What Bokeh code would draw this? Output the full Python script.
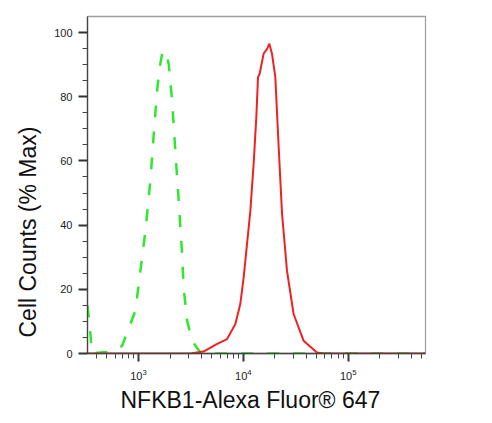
from bokeh.plotting import figure
from bokeh.models import Range1d, FixedTicker, LogTicker, Title
from bokeh.embed import file_html
from bokeh.resources import INLINE

# Fluorescence intensity (x) and % max cell counts (y)
isotype_intensity = [327, 345, 360, 435, 541, 700, 935, 1045, 1167, 1300, 1400, 1507,
                     1596, 1683, 1807, 1945, 2094, 2249, 2421, 2606, 2698, 2911, 3243,
                     3890, 4853, 10000, 50000, 100000, 545000]
isotype_counts = [15, 8, 0, 0.3, 0.5, 2.4, 13.3, 25.8, 38.3, 53.9, 68.4, 81.9,
                  89.2, 93.4, 94.4, 90.2, 78.8, 63.1, 47.6, 31.1, 20.6, 10.2, 4.0,
                  0.3, 0, 0, 0, 0, 0]

nfkb1_intensity = [327, 3126, 4169, 5572, 7000, 8395, 9354, 10070, 10840, 11670, 12530,
                   13300, 13800, 14290, 15600, 16830, 17700, 18750, 20180, 21730, 23390,
                   26060, 30130, 37500, 50230, 58210, 545000]
nfkb1_counts = [0, 0, 0.6, 2.9, 4.5, 9.2, 15.4, 23.7, 34.1, 44.5, 59.0,
                73.6, 86.1, 87.1, 93.4, 94.9, 96.5, 93.4, 86.1, 64.2, 43.5,
                25.8, 12.3, 4.0, 0.3, 0, 0]

y_major = [0, 20, 40, 60, 80, 100]
y_minor = [v for v in range(5, 100, 5) if v % 20 != 0]

x_title = "NFKB1-Alexa Fluor\u00ae 647"
y_title = "Cell Counts (% Max)"

p = figure(width=476, height=415, x_axis_type="log",
           x_range=Range1d(327, 545000), y_range=Range1d(0, 105),
           output_backend="svg", toolbar_location=None,
           min_border_left=87, min_border_right=51, min_border_top=16, min_border_bottom=62)

p.xgrid.visible = False
p.ygrid.visible = False
p.outline_line_color = "#a0a0a0"
p.outline_line_width = 1.3
p.background_fill_color = "white"
p.border_fill_color = "white"

p.line(isotype_intensity, isotype_counts, line_color="#2ee82e", line_width=2.5,
       line_dash="12 14")
p.line(nfkb1_intensity, nfkb1_counts, line_color="#ee2222", line_width=2)

# y axis
ya = p.yaxis[0]
ya.ticker = FixedTicker(ticks=y_major, minor_ticks=y_minor)
ya.axis_line_color = "#444444"
ya.axis_line_width = 1.3
ya.major_tick_line_width = 2
ya.major_tick_line_color = "#333333"
ya.major_tick_out = 9
ya.major_tick_in = 0
ya.minor_tick_out = 5
ya.minor_tick_in = 0
ya.minor_tick_line_color = "#444444"
ya.major_label_text_font = "Liberation Sans"
ya.major_label_text_font_size = "11px"
ya.major_label_text_color = "#222222"
ya.major_label_standoff = 6

# x axis
xa = p.xaxis[0]
xa.ticker = LogTicker(num_minor_ticks=10)
xa.axis_line_color = "#444444"
xa.axis_line_width = 1.3
xa.major_tick_line_width = 2
xa.major_tick_line_color = "#333333"
xa.major_tick_out = 8
xa.major_tick_in = 0
xa.minor_tick_out = 5
xa.minor_tick_in = 0
xa.minor_tick_line_color = "#444444"
xa.major_label_text_font = "Liberation Sans"
xa.major_label_text_font_size = "11px"
xa.major_label_text_color = "#222222"
xa.major_label_text_align = "left"
xa.major_label_standoff = 7

p.add_layout(Title(text=x_title, align="left", offset=33, standoff=4,
                   text_font="Liberation Sans", text_font_size="23px",
                   text_font_style="normal", text_color="#111111"), "below")
p.add_layout(Title(text=y_title, align="left", offset=16, standoff=22,
                   text_font="Liberation Sans", text_font_size="23px",
                   text_font_style="normal", text_color="#111111"), "left")

open("out.html", "w").write(file_html(p, INLINE))
